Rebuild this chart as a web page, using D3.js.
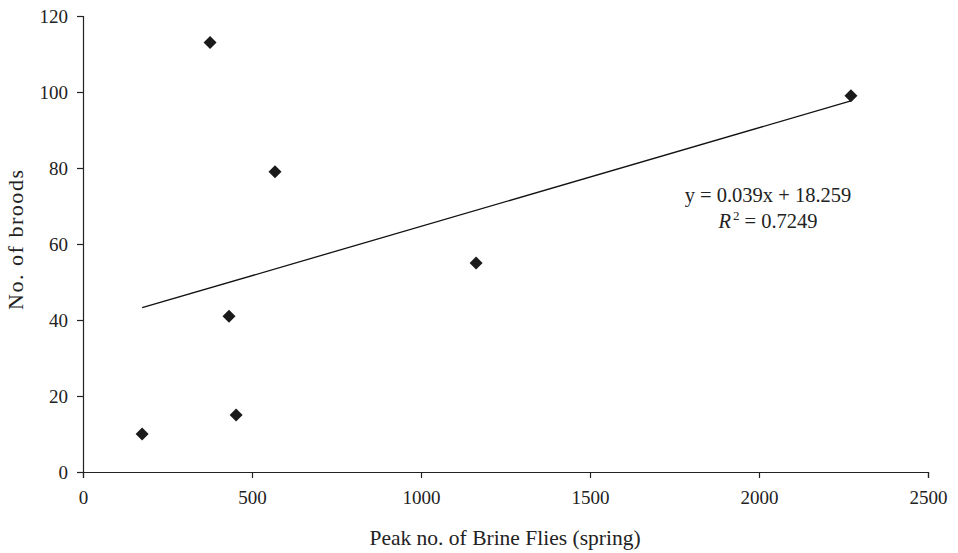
<!DOCTYPE html>
<html>
<head>
<meta charset="utf-8">
<script src="https://cdn.jsdelivr.net/npm/d3@7"></script>
<style>
  body { margin: 0; background: #fff; }
  text { font-family: "Liberation Serif", "DejaVu Serif", serif; fill: #222; }
</style>
</head>
<body>
<div id="chart"></div>
<script>
// Data
var flies = [175, 453, 376, 568, 432, 1163, 2272];
var broods = [10, 15, 113, 79, 41, 55, 99];
var xTicks = [0, 500, 1000, 1500, 2000, 2500];
var yTicks = [0, 20, 40, 60, 80, 100, 120];
var equationLines = ["y = 0.039x + 18.259", "R2 = 0.7249"];

var width = 958;
var height = 553;
var margin = { top: 16, right: 30, bottom: 81, left: 83 };

var svg = d3.select("#chart")
    .append("svg")
    .attr("width", width)
    .attr("height", height);

var x = d3.scaleLinear()
    .domain([0, 2500])
    .range([margin.left, width - margin.right]);

var y = d3.scaleLinear()
    .domain([0, 120])
    .range([height - margin.bottom, margin.top]);

// Axes
var xAxis = svg.append("g")
    .attr("transform", "translate(0," + y(0) + ")")
    .call(d3.axisBottom(x).tickValues(xTicks).tickSize(6).tickPadding(13).tickFormat(d3.format("d")));

var yAxis = svg.append("g")
    .attr("transform", "translate(" + x(0) + ",0)")
    .call(d3.axisLeft(y).tickValues(yTicks).tickSize(6).tickPadding(9));

[xAxis, yAxis].forEach(function(g) {
    g.select(".domain").attr("stroke", "#222").attr("stroke-width", 1.2);
    g.selectAll(".tick line").attr("stroke", "#222").attr("stroke-width", 1.2);
    g.selectAll(".tick text").style("font-size", "19px").style("font-family", "Liberation Serif").attr("fill", "#222");
});

// Linear trendline (least squares on the points)
var points = flies.map(function(d, i) { return { x: d, y: broods[i] }; });
var mx = d3.mean(points, function(d) { return d.x; });
var my = d3.mean(points, function(d) { return d.y; });
var sxy = d3.sum(points, function(d) { return (d.x - mx) * (d.y - my); });
var sxx = d3.sum(points, function(d) { return (d.x - mx) * (d.x - mx); });
var slope = sxy / sxx;
var intercept = my - slope * mx;
var xExt = d3.extent(flies);

svg.append("line")
    .attr("x1", x(xExt[0]))
    .attr("y1", y(intercept + slope * xExt[0]))
    .attr("x2", x(xExt[1]))
    .attr("y2", y(intercept + slope * xExt[1]))
    .attr("stroke", "#111")
    .attr("stroke-width", 1.3);

// Diamond markers
svg.selectAll(".pt")
    .data(points)
    .enter().append("path")
    .attr("class", "pt")
    .attr("d", "M0,-6.5L6.5,0L0,6.5L-6.5,0Z")
    .attr("transform", function(d) { return "translate(" + x(d.x) + "," + y(d.y) + ")"; })
    .attr("fill", "#1a1a1a");

// Equation label
svg.append("text")
    .attr("x", 768)
    .attr("y", 202)
    .attr("text-anchor", "middle")
    .style("font-size", "20.5px")
    .text(equationLines[0]);

var r2 = svg.append("text")
    .attr("x", 768)
    .attr("y", 228)
    .attr("text-anchor", "middle")
    .style("font-size", "20.5px");
r2.append("tspan").style("font-style", "italic").text("R");
r2.append("tspan").attr("dx", 2).attr("dy", -8).style("font-size", "13px").text("2");
r2.append("tspan").attr("dy", 8).text(" = 0.7249");

// Axis titles
svg.append("text")
    .attr("x", 505)
    .attr("y", 545)
    .attr("text-anchor", "middle")
    .style("font-size", "21.5px")
    .text("Peak no. of Brine Flies (spring)");

svg.append("text")
    .attr("transform", "translate(23,240) rotate(-90)")
    .attr("text-anchor", "middle")
    .style("font-size", "22px")
    .attr("textLength", 140)
    .attr("lengthAdjust", "spacing")
    .text("No. of broods");
</script>
</body>
</html>
